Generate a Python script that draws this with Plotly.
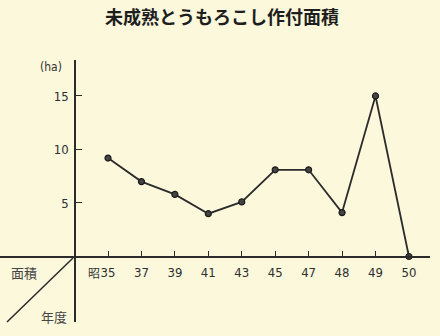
import plotly.graph_objects as go

# Data
years = ["35", "37", "39", "41", "43", "45", "47", "48", "49", "50"]
area_ha = [9.2, 7.0, 5.8, 4.0, 5.1, 8.1, 8.1, 4.1, 15.0, 0.0]
y_ticks = [5, 10, 15]
title_text = "未成熟とうもろこし作付面積"

W, H = 440, 336
bg = "#fbf8dc"
ink = "#2b2b2b"
cjk = "Noto Sans CJK JP"
num_font = "DejaVu Sans Condensed, Liberation Sans Narrow, DejaVu Sans"

x_idx = list(range(len(years)))

fig = go.Figure()
fig.add_trace(go.Scatter(
    x=x_idx, y=area_ha, mode="lines+markers",
    line=dict(color=ink, width=1.8),
    marker=dict(size=6, color="#444444", line=dict(color="#1a1a1a", width=1.2)),
    hoverinfo="skip", showlegend=False,
))

fig.update_layout(
    width=W, height=H,
    margin=dict(l=0, r=0, t=0, b=0),
    paper_bgcolor=bg, plot_bgcolor=bg,
    title=dict(text=title_text, x=222 / W, xanchor="center", y=1 - 18 / H, yanchor="middle",
               font=dict(family=cjk, size=18, color="#1e1e1e", weight="bold")),
    xaxis=dict(
        domain=[0, 430 / W], range=[-3.23, 9.63],
        anchor="free", position=(H - 256.5) / H,
        tickmode="array", tickvals=x_idx, ticktext=years,
        ticks="inside", ticklen=5, tickwidth=1, tickcolor=ink,
        showline=True, linecolor=ink, linewidth=1.5,
        showgrid=False, zeroline=False,
        tickfont=dict(family=num_font, size=13, color="#2e2e2e"),
        ticklabelstandoff=4,
    ),
    yaxis=dict(
        domain=[14 / H, 276 / H], range=[-6.12, 18.36],
        anchor="free", position=75 / W,
        tickmode="array", tickvals=y_ticks, ticktext=[str(v) for v in y_ticks],
        ticks="inside", ticklen=6, tickwidth=1, tickcolor=ink,
        showline=True, linecolor=ink, linewidth=1.5,
        showgrid=False, zeroline=False,
        tickfont=dict(family=num_font, size=13, color="#2e2e2e"),
        ticklabelstandoff=3,
    ),
)

# "昭" prefix before the first year label
fig.add_annotation(xref="x", yref="paper", x=0, y=(H - 272) / H, xshift=-6,
                   text="昭", showarrow=False, xanchor="right", yanchor="middle",
                   font=dict(family=cjk, size=12, color="#333333"))
# unit label
fig.add_annotation(xref="paper", yref="paper", x=51 / W, y=(H - 67) / H,
                   text="(ha)", showarrow=False, xanchor="center", yanchor="middle",
                   font=dict(family=num_font, size=12, color="#333333"))
# corner header labels
fig.add_annotation(xref="paper", yref="paper", x=24 / W, y=(H - 272) / H,
                   text="面積", showarrow=False, xanchor="center", yanchor="middle",
                   font=dict(family=cjk, size=13, color="#444444"))
fig.add_annotation(xref="paper", yref="paper", x=54 / W, y=(H - 316) / H,
                   text="年度", showarrow=False, xanchor="center", yanchor="middle",
                   font=dict(family=cjk, size=13, color="#444444"))
# diagonal divider
fig.add_shape(type="line", xref="paper", yref="paper",
              x0=7 / W, y0=(H - 322) / H, x1=73 / W, y1=(H - 258) / H,
              line=dict(color=ink, width=1.5))

fig.write_html("out.html")
